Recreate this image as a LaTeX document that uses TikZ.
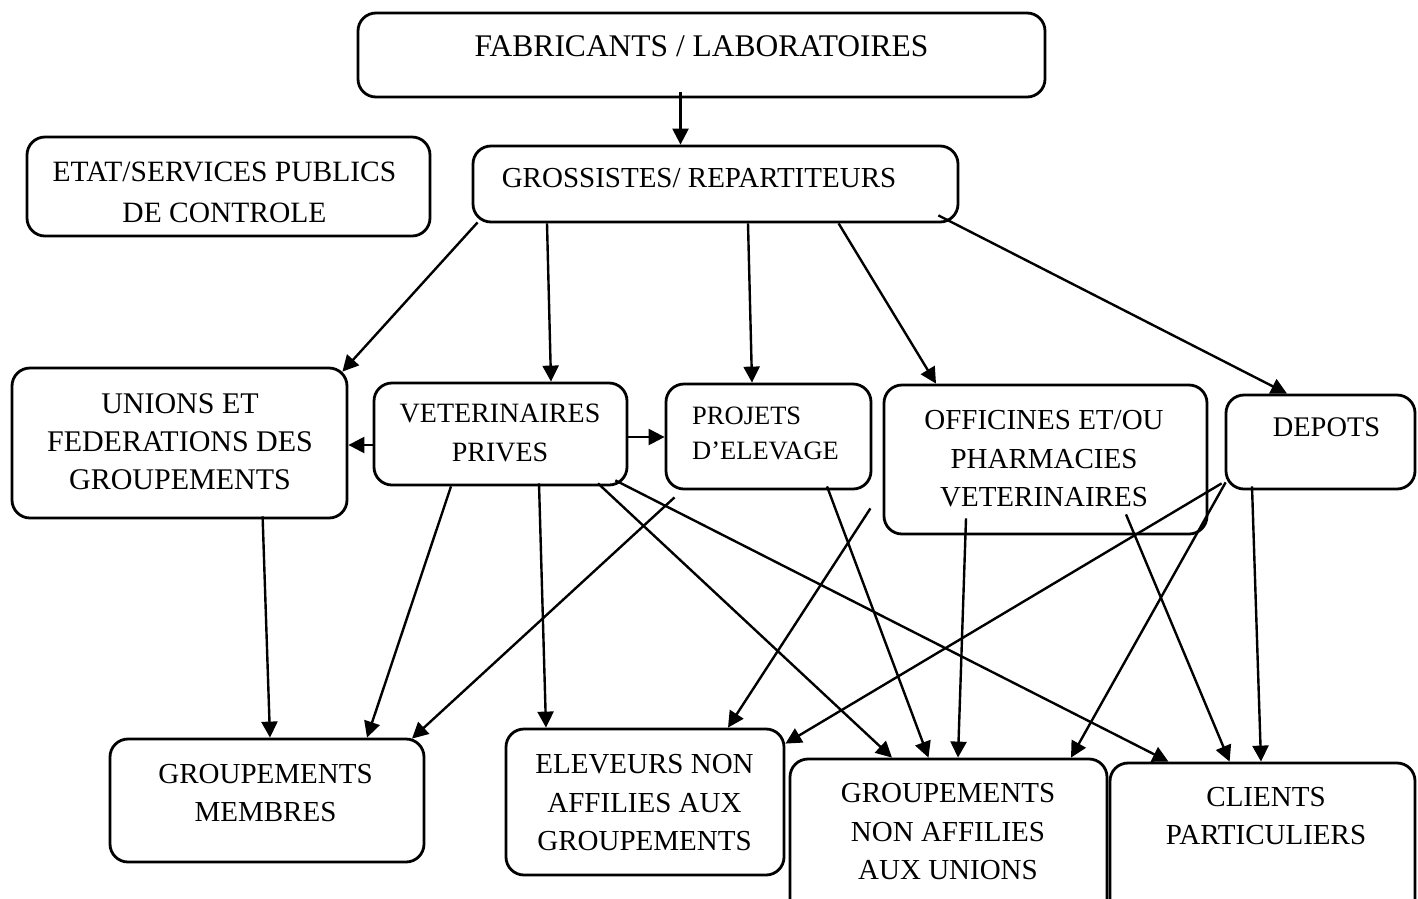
\documentclass[tikz,border=0pt]{standalone}
\usepackage{fontspec}
\setmainfont{Liberation Serif}
\usetikzlibrary{arrows.meta,calc}
\newcommand\fsz[2]{\fontsize{#1}{#2}\selectfont}
\tikzset{
  box/.style={draw, rounded corners=18pt, line width=2.8pt, inner sep=0pt},
  lbl/.style={align=center, inner sep=0pt},
  arr/.style={line width=2.4pt, -{Triangle[length=16pt,width=16pt]}}
}
\begin{document}
\begin{tikzpicture}[x=1pt,y=-1pt]
\useasboundingbox (0,0) rectangle (1418,898);
\fill[white] (0,0) rectangle (1418,898);
\clip (0,0) rectangle (1418,898);

% boxes
\node[box, minimum width=687pt, minimum height=84pt]  (fab)    at (701.5,55)   {};
\node[box, minimum width=485pt, minimum height=76pt]  (gros)   at (715.5,184)  {};
\node[box, minimum width=403pt, minimum height=99pt]  (etat)   at (228.5,186.5){};
\node[box, minimum width=335pt, minimum height=150pt] (unions) at (179.5,443)  {};
\node[box, minimum width=253pt, minimum height=102pt] (vet)    at (500.5,434)  {};
\node[box, minimum width=205pt, minimum height=105pt] (proj)   at (768.5,436.5){};
\node[box, minimum width=323pt, minimum height=149pt] (off)    at (1045.5,459.5){};
\node[box, minimum width=189pt, minimum height=94pt]  (dep)    at (1320.5,442) {};
\node[box, minimum width=314pt, minimum height=123pt] (gm)     at (267,800.5)  {};
\node[box, minimum width=278pt, minimum height=146pt] (ele)    at (645,802)    {};
\node[box, minimum width=317pt, minimum height=161pt] (gna)    at (948.5,839.5){};
\node[box, minimum width=305pt, minimum height=157pt] (cli)    at (1262.5,841.5){};

% texts
\node[lbl, font=\fsz{31.5}{38}] (tfab) at (701.5,46.6) {FABRICANTS / LABORATOIRES};
\node[lbl, font=\fsz{29}{38}] (tgros) at (699,178.4) {GROSSISTES/ REPARTITEURS};
\node[lbl, font=\fsz{29.5}{41}] (tetat) at (224.5,192) {ETAT/SERVICES PUBLICS\\DE CONTROLE};
\node[lbl, font=\fsz{30}{38}] (tunions) at (180,442) {UNIONS ET\\FEDERATIONS DES\\GROUPEMENTS};
\node[lbl, font=\fsz{28}{39}] (tvet) at (500,433) {VETERINAIRES\\PRIVES};
\node[lbl, align=left, anchor=west, font=\fsz{26.5}{35}] (tproj) at (692,433.7) {PROJETS\\D’ELEVAGE};
\node[lbl, font=\fsz{29}{38.5}] (toff) at (1044,459) {OFFICINES ET/OU\\PHARMACIES\\VETERINAIRES};
\node[lbl, font=\fsz{28.4}{38}] (tdep) at (1326.5,427.6) {DEPOTS};
\node[lbl, font=\fsz{29}{38}] (tgm) at (265.5,793) {GROUPEMENTS\\MEMBRES};
\node[lbl, font=\fsz{29}{38.5}] (tele) at (644.5,803) {ELEVEURS NON\\AFFILIES AUX\\GROUPEMENTS};
\node[lbl, font=\fsz{29}{38.5}] (tgna) at (948,832) {GROUPEMENTS\\NON AFFILIES\\AUX UNIONS};
\node[lbl, font=\fsz{29}{38}] (tcli) at (1266,816.4) {CLIENTS\\PARTICULIERS};

% connectors
\draw[arr] ($(fab.south)+(-21,-6)$) -- ($(gros.north)+(-35,0)$);
\draw[arr] ($(gros.south west)+(6,-1)$) -- ($(unions.north east)+(-6,5)$);
\draw[arr] (547,0 |- gros.south) -- (551,0 |- vet.north);
\draw[arr] (748,0 |- gros.south) -- (752,0 |- proj.north);
\draw[arr] (838.6,0 |- gros.south) -- (936,0 |- off.north);
\draw[arr] ($(gros.south east)+(-21,-8)$) -- (1287,0 |- dep.north);
\draw[arr] (vet.west |- 0,445) -- (unions.east |- 0,445);
\draw[arr] (vet.east |- 0,437) -- (proj.west |- 0,437);
\draw[arr] ($(262.6,0 |- unions.south)+(0,-3)$) -- (270,0 |- gm.north);
\draw[arr] (451,0 |- vet.south) -- (367,0 |- gm.north);
\draw[arr] ($(proj.south)+(-94,7)$) -- ($(412,0 |- gm.north)+(0,1)$);
\draw[arr] ($(539,0 |- vet.south)+(0,-3)$) -- (546,0 |- ele.north);
\draw[arr] ($(598,0 |- vet.south)+(0,-3)$) -- (892,0 |- gna.north);
\draw[arr] ($(vet.south east)+(-13,-6)$) -- (1168.5,0 |- cli.north);
\draw[arr] ($(proj.south east)+(-2,18)$) -- (728,0 |- ele.north);
\draw[arr] ($(827,0 |- proj.south)+(0,-4)$) -- (928.5,0 |- gna.north);
\draw[arr] ($(966,0 |- off.south)+(0,-17)$) -- (958,0 |- gna.north);
\draw[arr] ($(off.south)+(80.5,-21)$) -- (1229.6,0 |- cli.north);
\draw[arr] ($(dep.south west)+(-3,-7)$) -- ($(ele.north east)+(0,16)$);
\draw[arr] ($(dep.south west)+(1,-8)$) -- (1071,0 |- gna.north);
\draw[arr] ($(1252,0 |- dep.south)+(0,-4)$) -- (1261,0 |- cli.north);
\end{tikzpicture}
\end{document}
